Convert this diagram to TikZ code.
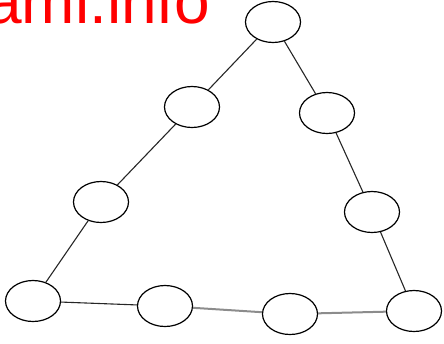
\documentclass[tikz,border=0pt]{standalone}
\usepackage{fontspec}
\setmainfont{Liberation Sans}
\usepackage{tikz}
\usetikzlibrary{shapes.geometric}

\begin{document}
\begin{tikzpicture}[x=1pt, y=-1pt,
    vert/.style={draw, ellipse, line width=1.2pt, minimum width=55pt, minimum height=41pt, inner sep=0pt},
    edge/.style={line width=1.1pt, black!85},
    thickedge/.style={line width=2pt, black!45}]
  \useasboundingbox (0,0) rectangle (444,343);
  \node[red, font=\fontsize{64}{64}\selectfont, anchor=base east, inner sep=0pt] (mark) at (210.5,23) {ami.info};
  \node[vert] (top) at (273,22) {};
  \node[vert] (l1) at (192,107) {};
  \node[vert] (l2) at (101,202) {};
  \node[vert] (bl) at (33,301) {};
  \node[vert] (r1) at (327,113) {};
  \node[vert] (r2) at (372,212) {};
  \node[vert] (br) at (414,311) {};
  \node[vert] (b1) at (165,306) {};
  \node[vert] (b2) at (290,314) {};
  \draw[edge] (top) -- (l1) -- (l2) -- (bl) -- (b1);
  \draw[edge] (top) -- (r1) -- (r2) -- (br);
  \draw[thickedge] (b1) -- (b2) -- (br);
\end{tikzpicture}
\end{document}
